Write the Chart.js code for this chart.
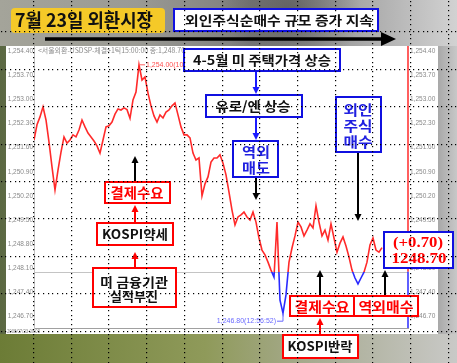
<!DOCTYPE html>
<html><head><meta charset="utf-8">
<script src="https://cdn.jsdelivr.net/npm/chart.js@4/dist/chart.umd.min.js"></script>
<style>html,body{margin:0;padding:0;overflow:hidden;background:#999}#wrap{position:relative;width:457px;height:363px}</style>
</head><body><div id="wrap"><canvas id="c" width="457" height="363"></canvas></div>
<script>
// ---- data (USD/KRW ticks, 2008-07-23, sampled evenly in tick order) ----
const rates = [
1251.82,1252.26,1252.49,1252.78,1252.40,1251.76,1251.04,1250.37,1250.95,1251.47,
1251.91,1251.73,1251.82,1251.97,1251.91,1252.11,1252.40,1252.20,1252.02,1251.91,
1251.79,1251.65,1251.44,1251.82,1252.20,1252.23,1252.34,1252.57,1252.72,1252.69,
1252.75,1252.70,1252.45,1252.98,1253.21,1254.00,1253.56,1253.65,1253.18,1252.81,
1252.52,1252.34,1252.55,1252.46,1252.63,1252.69,1252.81,1252.89,1252.55,1252.20,
1251.97,1251.97,1251.88,1251.44,1251.24,1251.30,1250.20,1250.55,1250.75,1251.18,
1251.30,1251.30,1251.39,1251.15,1250.81,1250.31,1249.79,1249.36,1249.59,1249.65,
1249.73,1249.59,1249.50,1249.73,1249.44,1248.98,1248.63,1248.49,1248.28,1248.05,
1247.85,1249.44,1247.18,1246.80,1247.33,1248.28,1248.69,1249.04,1249.44,1249.30,
1249.04,1249.21,1249.39,1249.27,1249.91,1249.44,1249.04,1249.21,1248.92,1249.39,
1248.98,1248.57,1248.83,1249.01,1248.75,1248.43,1248.05,1247.82,1247.65,1247.82,
1247.99,1248.28,1248.78,1248.98,1248.63,1248.57,1248.70];
const prevClose = 1248.00;
const yTicks = [1246.70,1247.40,1248.10,1248.80,1249.50,1250.20,1250.90,1251.60,1252.30,1253.00,1253.70,1254.40];
const xTickIndex = [0,33,57.5,73,85.3,96.3,124.67];
const xTickLabels = ['2008/07/23-09:00','10:00','11:00','12:00','13:00','14:00','15:00'];
const header = '<서울외환-USDSP-체결>1틱15:00:00 종:1,248.70';
const highLabel = '1,254.00(10:05:00)';
const lowLabel = '1,246.80(12:56:52)';
const changeLabel = '(+0.70)';
const closeLabel = '1248.70';
const title = '7월 23일 외환시장';

const RED = '#ff2a2a', BLUE = '#2a2aff';
const KR = '"Noto Sans CJK KR", "Noto Sans", sans-serif';
const fmt = v => v.toLocaleString('en-US',{minimumFractionDigits:2,maximumFractionDigits:2});

function fitText(c, str, x, y, w, font, color, align){
  c.save(); c.font = font; c.fillStyle = color;
  const m = c.measureText(str).width;
  let sx = w / m; sx = Math.max(0.7, Math.min(1.4, sx));
  c.translate(x, y); c.scale(sx, 1);
  c.textAlign = align || 'center'; c.textBaseline = 'middle';
  c.fillText(str, 0, 0); c.restore();
}
function box(c, x1, y1, x2, y2, border, fill, lw){
  c.save(); c.fillStyle = fill; c.fillRect(x1, y1, x2-x1, y2-y1);
  c.strokeStyle = border; c.lineWidth = lw || 2; c.strokeRect(x1, y1, x2-x1, y2-y1); c.restore();
}
function arrow(c, x1, y1, x2, y2, color, w, head, hw){
  const a = Math.atan2(y2-y1, x2-x1), ca = Math.cos(a), sa = Math.sin(a);
  hw = hw || head*0.45;
  c.save(); c.strokeStyle = color; c.fillStyle = color; c.lineWidth = w;
  c.beginPath(); c.moveTo(x1, y1); c.lineTo(x2-ca*head*0.8, y2-sa*head*0.8); c.stroke();
  c.beginPath(); c.moveTo(x2, y2);
  c.lineTo(x2-head*ca+hw*sa, y2-head*sa-hw*ca);
  c.lineTo(x2-head*ca-hw*sa, y2-head*sa+hw*ca);
  c.closePath(); c.fill(); c.restore();
}
function drawBackground(c){
  let g = c.createLinearGradient(0,0,457,0);
  g.addColorStop(0,'#5b6842'); g.addColorStop(0.3,'#85876f'); g.addColorStop(0.7,'#a3a39e'); g.addColorStop(1,'#bdbdbd');
  c.fillStyle = g; c.fillRect(0,0,457,363);
  g = c.createLinearGradient(0,0,457,0);
  g.addColorStop(0,'#a4a49a'); g.addColorStop(0.3,'#9a9a94'); g.addColorStop(0.55,'#7c7c7c'); g.addColorStop(0.75,'#a0a0a0'); g.addColorStop(1,'#d2d2d2');
  c.fillStyle = g; c.fillRect(0,0,457,46);
  const r = c.createRadialGradient(290,10,5,290,10,70);
  r.addColorStop(0,'rgba(70,70,70,0.55)'); r.addColorStop(1,'rgba(70,70,70,0)');
  c.fillStyle = r; c.fillRect(180,0,220,46);
  g = c.createLinearGradient(0,0,457,0);
  g.addColorStop(0,'#6c7c36'); g.addColorStop(0.45,'#8f9a5a'); g.addColorStop(0.7,'#a9ac94'); g.addColorStop(1,'#c9c9c7');
  c.fillStyle = g; c.fillRect(0,334,457,29);
  g = c.createLinearGradient(438,0,457,0);
  g.addColorStop(0,'#a8a8a8'); g.addColorStop(1,'#c8c8c8');
  c.fillStyle = g; c.fillRect(438,46,19,288);
}
function drawDots(c){
  c.save(); c.fillStyle = '#000';
  const s = 37.5/8;
  for (let k=-1;k<=9;k++){ const y = Math.round(31.4+37.4*k);
    for (let x=-4;x<460;x+=s) c.fillRect(Math.round(x), y, 1.2, 1.2); }
  for (let k=-1;k<=11;k++){ const x = Math.round(33+37.7*k);
    for (let y=-4;y<366;y+=s) c.fillRect(x, Math.round(y), 1.2, 1.2); }
  c.restore();
}

const decor = {
  id:'decor',
  beforeDraw(chart){
    const c = chart.ctx;
    drawBackground(c);
    c.fillStyle = '#fff'; c.fillRect(6,46,432,288);
    fitText(c, header, 38, 50.5, 147, '7px ' + KR, '#8a8a8a', 'left');
    fitText(c, xTickLabels[0], 7, 331.5, 33, '5.5px "Liberation Sans"', '#8a8a8a', 'left');
  },
  beforeDatasetsDraw(chart){
    const c = chart.ctx, a = chart.chartArea, y = chart.scales.y.getPixelForValue(prevClose);
    c.save(); c.strokeStyle = '#c4c4c4'; c.lineWidth = 1;
    c.beginPath(); c.moveTo(a.left, Math.round(y)+0.5); c.lineTo(a.right, Math.round(y)+0.5); c.stroke(); c.restore();
  },
  afterDatasetsDraw(chart){
    const c = chart.ctx, a = chart.chartArea, sx = chart.scales.x, sy = chart.scales.y;
    const yRef = sy.getPixelForValue(prevClose);
    c.save(); c.lineWidth = 1.5;
    c.strokeStyle = RED; c.beginPath(); c.moveTo(a.right, a.top); c.lineTo(a.right, yRef); c.stroke();
    c.strokeStyle = BLUE; c.beginPath(); c.moveTo(a.right, yRef); c.lineTo(a.right, a.bottom); c.stroke();
    let hi = 0, lo = 0;
    rates.forEach((v,i)=>{ if (v>rates[hi]) hi=i; if (v<rates[lo]) lo=i; });
    const hx = sx.getPixelForValue(hi), hy = sy.getPixelForValue(rates[hi]);
    c.lineWidth = 1; c.strokeStyle = '#ff6060';
    c.beginPath(); c.moveTo(hx, hy); c.lineTo(hx+6, hy); c.stroke();
    c.font = '7px "Liberation Sans"'; c.fillStyle = '#ff5050'; c.textBaseline = 'middle'; c.textAlign='left';
    c.fillText(highLabel, hx+7, hy);
    const lx = sx.getPixelForValue(lo), ly = sy.getPixelForValue(rates[lo]);
    c.strokeStyle = '#6a6aff';
    c.beginPath(); c.moveTo(lx, ly); c.lineTo(lx, ly+8); c.lineTo(lx-6, ly+8); c.stroke();
    c.fillStyle = '#6a6aff'; c.textAlign = 'right';
    c.fillText(lowLabel, lx-7, ly+8);
    c.restore();
  },
  afterDraw(chart){
    const c = chart.ctx;
    c.save(); c.fillStyle = '#f5c928';
    c.beginPath(); c.roundRect(11,8,154,25,4); c.fill(); c.restore();
    fitText(c, title, 84, 20.5, 138, 'bold 18px ' + KR, '#111');
    box(c,174,9,378,31,'#1010e0','#fff',2);
    fitText(c,'외인주식순매수 규모 증가 지속',279,20.5,188,'bold 13px '+KR,'#111');
    arrow(c,45,39,396,39,'#000',3.5,15,7);
    box(c,184,49,340,71,'#1010e0','#fff',2);
    fitText(c,'4-5월 미 주택가격 상승',262,60.5,138,'bold 13px '+KR,'#111');
    arrow(c,256,72,256,94,'#1a1aff',2,7,3.5);
    box(c,206,95,302,117,'#1010e0','#fff',2);
    fitText(c,'유로/엔 상승',253,106.5,75,'bold 13px '+KR,'#111');
    arrow(c,256,118,256,140,'#1a1aff',2,7,3.5);
    box(c,233,141,278,177,'#1010e0','#fff',2);
    fitText(c,'역외',256,152,28,'bold 14px '+KR,'#2020e0');
    fitText(c,'매도',256,168,28,'bold 14px '+KR,'#2020e0');
    arrow(c,256,178,256,200,'#000',2,7,3.5);
    box(c,336,97,381,152,'#1010e0','#fff',2);
    fitText(c,'외인',358,110,29,'bold 14px '+KR,'#2020e0');
    fitText(c,'주식',358,126,29,'bold 14px '+KR,'#2020e0');
    fitText(c,'매수',358,142,29,'bold 14px '+KR,'#2020e0');
    arrow(c,358,153,358,221,'#000',2,7,3.5);
    arrow(c,135,181,135,156,'#000',2,7,3.5);
    box(c,105,182,170,203,'#ff0000','#fff',2);
    fitText(c,'결제수요',137,193,53,'bold 14px '+KR,'#ff0000');
    arrow(c,135,222,135,205,'#ff0000',2,7,3.5);
    box(c,97,223,173,245,'#ff0000','#fff',2);
    fitText(c,'KOSPI약세',135,234.5,66,'bold 13px '+KR,'#111');
    arrow(c,135,268,135,252,'#ff0000',2,7,3.5);
    box(c,93,268,176,307,'#ff0000','#fff',2);
    fitText(c,'미 금융기관',134,282,68,'bold 13px '+KR,'#111');
    fitText(c,'실적부진',134,296,48,'bold 13px '+KR,'#111');
    arrow(c,320,296,320,270,'#000',2,7,3.5);
    arrow(c,385,296,385,270,'#000',2,7,3.5);
    box(c,290,296,354,316,'#ff0000','#fff',2);
    box(c,354,296,418,316,'#ff0000','#fff',2);
    fitText(c,'결제수요',322,306.5,55,'bold 14px '+KR,'#ff0000');
    fitText(c,'역외매수',386,306.5,55,'bold 14px '+KR,'#ff0000');
    arrow(c,320,335,320,318,'#ff0000',2,7,3.5);
    box(c,283,335,358,358,'#ff0000','#fff',2);
    fitText(c,'KOSPI반락',320,346.5,65,'bold 13px '+KR,'#111');
    box(c,384,232,453,268,'#1010e0','#fff',2);
    fitText(c,changeLabel,418,243,50,'bold 15px "Liberation Serif"','#ff0000');
    fitText(c,closeLabel,419,259,55,'bold 15px "Liberation Serif"','#ff0000');
    drawDots(c);
  }
};

const lineColor = ctx => {
  const ch = ctx.chart, a = ch.chartArea;
  if (!a) return RED;
  const y = ch.scales.y.getPixelForValue(prevClose);
  const f = Math.min(1, Math.max(0, (y - a.top)/(a.bottom - a.top)));
  const g = ch.ctx.createLinearGradient(0, a.top, 0, a.bottom);
  g.addColorStop(0, RED); g.addColorStop(f, RED); g.addColorStop(f, BLUE); g.addColorStop(1, BLUE);
  return g;
};

const yTickOpts = {color:'#8a8a8a', font:{size:6.5, family:'"Liberation Sans"'}, padding:1, autoSkip:false, callback:v=>fmt(v)};
new Chart(document.getElementById('c'), {
  type:'line',
  data:{ datasets:[{ data: rates.map((v,i)=>({x:i,y:v})), borderColor: lineColor, borderWidth:1.6, pointRadius:0, tension:0 }]},
  options:{
    responsive:false, animation:false, devicePixelRatio:1,
    layout:{padding:{left:6, right:19, top:46, bottom:27}},
    plugins:{legend:{display:false}, tooltip:{enabled:false}},
    scales:{
      x:{ type:'linear', min:0, max:124.67, grid:{display:false}, border:{display:true, color:'#a0a0a0'},
          afterBuildTicks: s => { s.ticks = xTickIndex.map(v=>({value:v})); },
          afterFit: s => { s.height = 8; },
          ticks:{ color:'#8a8a8a', font:{size:5.5, family:'"Liberation Sans"'}, padding:0, maxRotation:0, minRotation:0, autoSkip:false,
                  callback:(v,i)=> i===0 ? '' : xTickLabels[i] } },
      y:{ position:'left', min:1246.371, max:1254.545, grid:{display:false, drawTicks:false}, border:{display:true, color:'#c0c0c0'},
          afterBuildTicks: s => { s.ticks = yTicks.map(v=>({value:v})); },
          afterFit: s => { s.width = 28; }, ticks: yTickOpts },
      y2:{ position:'right', min:1246.371, max:1254.545, grid:{display:false, drawTicks:false}, border:{display:false},
          afterBuildTicks: s => { s.ticks = yTicks.map(v=>({value:v})); },
          afterFit: s => { s.width = 30; }, ticks: Object.assign({}, yTickOpts, {padding:2}) }
    }
  },
  plugins:[decor]
});
</script></body></html>
